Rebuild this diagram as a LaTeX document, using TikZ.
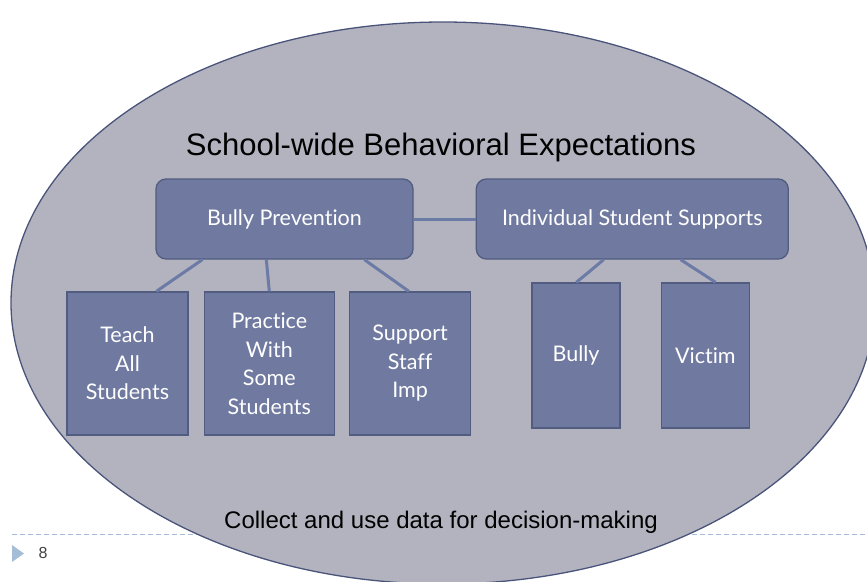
\documentclass[tikz,border=0pt]{standalone}
\usepackage{fontspec}
\setmainfont{Liberation Sans}
\newfontfamily\boxfont{Lato}[Ligatures={NoCommon}]
\usetikzlibrary{positioning}

\definecolor{ovalfill}{RGB}{179,179,191}
\definecolor{ovalline}{RGB}{74,84,122}
\definecolor{boxfill}{RGB}{112,122,160}
\definecolor{boxline}{RGB}{82,92,128}
\definecolor{linkcol}{RGB}{108,122,166}
\definecolor{footcol}{RGB}{165,189,214}

\tikzset{
  topbox/.style={draw=boxline, fill=boxfill, line width=1.3pt, rounded corners=10pt,
    inner sep=0pt, minimum height=80pt, text=white, align=center,
    font=\boxfont\fontsize{21.5}{26}\selectfont},
  tallbox/.style={draw=boxline, fill=boxfill, line width=1.3pt,
    inner sep=0pt, text=white, align=center,
    font=\boxfont\fontsize{21.5}{28.5}\selectfont},
  link/.style={draw=linkcol, line width=3pt},
}

\begin{document}
\begin{tikzpicture}[x=1pt,y=-1pt]
  \useasboundingbox (0,0) rectangle (867,581);
  \clip (0,0) rectangle (867,581);
  % footer rule and slide number
  \coordinate (ruleL) at (12,534);
  \coordinate (ruleR) at (867,534);
  \draw[footcol, line width=0.9pt, dash pattern=on 5pt off 3pt] (ruleL) -- (ruleR);
  \fill[footcol] (12,545) -- (24,553.5) -- (12,562) -- cycle;
  \node[text=black!75, font=\fontsize{16}{16}\selectfont] (pagenum) at (43,553) {8};
  % the big oval
  \draw[ovalline, fill=ovalfill, line width=1.3pt] (443,303) ellipse [x radius=432, y radius=281];
  \node[font=\fontsize{31}{31}\selectfont] (title) at (441,147) {School-wide Behavioral Expectations};
  \node[font=\fontsize{24}{24}\selectfont] (data) at (441,522) {Collect and use data for decision-making};
  % boxes
  \node[topbox, minimum width=257pt] (prevention) at (284.5,219) {Bully Prevention};
  \node[topbox, minimum width=312pt, right=62pt of prevention] (supports) {Individual Student Supports};
  \node[tallbox, minimum width=121pt, minimum height=143pt] (teach) at (127.5,363.5) {Teach\\All\\Students};
  \node[tallbox, minimum width=130pt, minimum height=143pt, right=15pt of teach] (practice) {Practice\\With\\Some\\Students};
  \node[tallbox, minimum width=121pt, minimum height=143pt, right=14pt of practice] (staff) {Support\\Staff\\Imp};
  \node[tallbox, minimum width=88pt, minimum height=145pt] (bully) at (576,355.5) {Bully};
  \node[tallbox, minimum width=88pt, minimum height=145pt, right=40pt of bully] (victim) {Victim};
  % links
  \draw[link] (prevention.east) -- (supports.west);
  \draw[link] ([xshift=47pt]prevention.south west) -- ([xshift=90pt]teach.north west);
  \draw[link] ([xshift=111pt]prevention.south west) -- (practice.north);
  \draw[link] ([xshift=209pt]prevention.south west) -- ([xshift=60pt]staff.north west);
  \draw[link] ([xshift=128pt]supports.south west) -- ([xshift=45pt]bully.north west);
  \draw[link] ([xshift=205pt]supports.south west) -- ([xshift=55pt]victim.north west);
\end{tikzpicture}
\end{document}
